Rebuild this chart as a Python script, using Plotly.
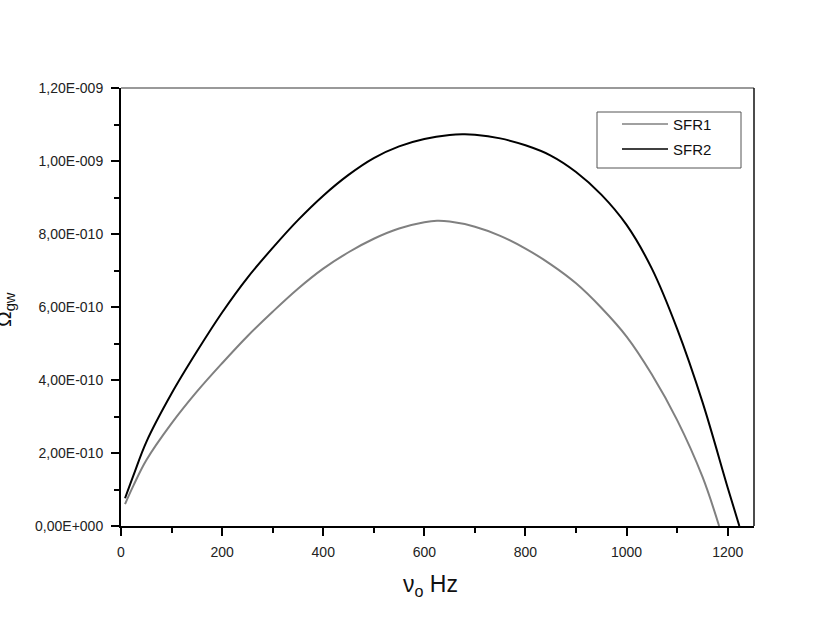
import plotly.graph_objects as go

# Data (x in Hz, y in units of 1e-10)
sfr1_x = [8, 25, 50, 100, 150, 200, 250, 300, 350, 400, 450, 500, 550, 600, 625, 650, 700, 750, 800, 850, 900, 950, 1000, 1050, 1100, 1150, 1183]
sfr1_y = [0.60, 1.12, 1.80, 2.81, 3.68, 4.46, 5.20, 5.87, 6.50, 7.05, 7.50, 7.87, 8.15, 8.32, 8.36, 8.34, 8.20, 7.95, 7.60, 7.17, 6.65, 5.98, 5.19, 4.15, 2.90, 1.35, 0.0]

sfr2_x = [8, 25, 50, 100, 150, 200, 250, 300, 350, 400, 450, 500, 550, 600, 650, 675, 700, 750, 800, 850, 900, 950, 1000, 1050, 1100, 1150, 1200, 1223]
sfr2_y = [0.76, 1.40, 2.30, 3.63, 4.78, 5.85, 6.80, 7.62, 8.38, 9.05, 9.62, 10.08, 10.40, 10.60, 10.71, 10.73, 10.72, 10.62, 10.43, 10.15, 9.70, 9.08, 8.25, 7.05, 5.40, 3.40, 1.05, 0.0]

y_ticks = [0, 2e-10, 4e-10, 6e-10, 8e-10, 1e-9, 1.2e-9]
y_tick_text = ["0,00E+000", "2,00E-010", "4,00E-010", "6,00E-010", "8,00E-010", "1,00E-009", "1,20E-009"]
x_ticks = [0, 200, 400, 600, 800, 1000, 1200]
x_tick_text = ["0", "200", "400", "600", "800", "1000", "1200"]
series_names = ["SFR1", "SFR2"]
series_colors = ["#808080", "#000000"]

scale = 1e-10
FONT = "Arial, Liberation Sans, sans-serif"

fig = go.Figure()
for name, xs, ys, col in zip(series_names, [sfr1_x, sfr2_x], [sfr1_y, sfr2_y], series_colors):
    fig.add_trace(go.Scatter(
        x=xs, y=[v * scale for v in ys], mode="lines", name=name, showlegend=False,
        line=dict(color=col, width=2, shape="spline", smoothing=1.0)))

tickfont = dict(family=FONT, size=14, color="#222")

# legend drawn in paper coordinates (box + line samples + labels)
L, R, T, B = 121, 754, 88, 526
W, H = R - L, B - T
def px(x):
    return (x - L) / W
def py(y):
    return (B - y) / H

shapes = [
    dict(type="line", xref="paper", yref="paper", x0=0, x1=1, y0=1, y1=1, line=dict(color="#777", width=1.5)),
    dict(type="line", xref="paper", yref="paper", x0=1, x1=1, y0=0, y1=1, line=dict(color="#111", width=1.5)),
    dict(type="rect", xref="paper", yref="paper", x0=px(597), x1=px(741), y0=py(168), y1=py(112),
         line=dict(color="#555", width=1), fillcolor="white", layer="above"),
]
annotations = []
for i, (name, col) in enumerate(zip(series_names, series_colors)):
    yy = 124 + i * 25
    shapes.append(dict(type="line", xref="paper", yref="paper", x0=px(622), x1=px(668), y0=py(yy), y1=py(yy),
                       line=dict(color=col, width=1.5), layer="above"))
    annotations.append(dict(text=name, xref="paper", yref="paper", x=px(671), y=py(yy), xanchor="left",
                            yanchor="middle", showarrow=False, font=dict(family=FONT, size=15, color="#111")))

annotations.append(dict(text="Ω<sub>gw</sub>", xref="paper", yref="paper", x=px(5), y=py(310),
                        textangle=-90, showarrow=False, xanchor="center", yanchor="middle",
                        font=dict(family=FONT, size=21, color="#111")))
annotations.append(dict(text="ν<sub>o</sub> Hz", xref="paper", yref="paper", x=px(430), y=py(585),
                        showarrow=False, xanchor="center", yanchor="middle",
                        font=dict(family=FONT, size=23, color="#111")))

fig.update_layout(
    width=830, height=621,
    margin=dict(l=L, r=830 - R, t=T, b=621 - B),
    paper_bgcolor="white", plot_bgcolor="white",
    showlegend=False,
    xaxis=dict(
        range=[0, 1252], tickvals=x_ticks, ticktext=x_tick_text,
        ticks="outside", ticklen=8, tickwidth=2, tickcolor="black",
        showline=True, linecolor="black", linewidth=2, ticklabelstandoff=4,
        showgrid=False, zeroline=False, tickfont=tickfont,
        minor=dict(dtick=100, tick0=0, ticks="outside", ticklen=5, tickwidth=2, tickcolor="black", showgrid=False),
    ),
    yaxis=dict(
        range=[0, 1.2e-9], tickvals=y_ticks, ticktext=y_tick_text,
        ticks="outside", ticklen=8, tickwidth=2, tickcolor="black",
        showline=True, linecolor="black", linewidth=2, ticklabelstandoff=5,
        showgrid=False, zeroline=False, tickfont=tickfont,
        minor=dict(dtick=1e-10, tick0=0, ticks="outside", ticklen=5, tickwidth=2, tickcolor="black", showgrid=False),
    ),
    shapes=shapes,
    annotations=annotations,
)

fig.write_html("out.html", config={"displayModeBar": False},
               post_script="document.body.style.margin='0px';")
